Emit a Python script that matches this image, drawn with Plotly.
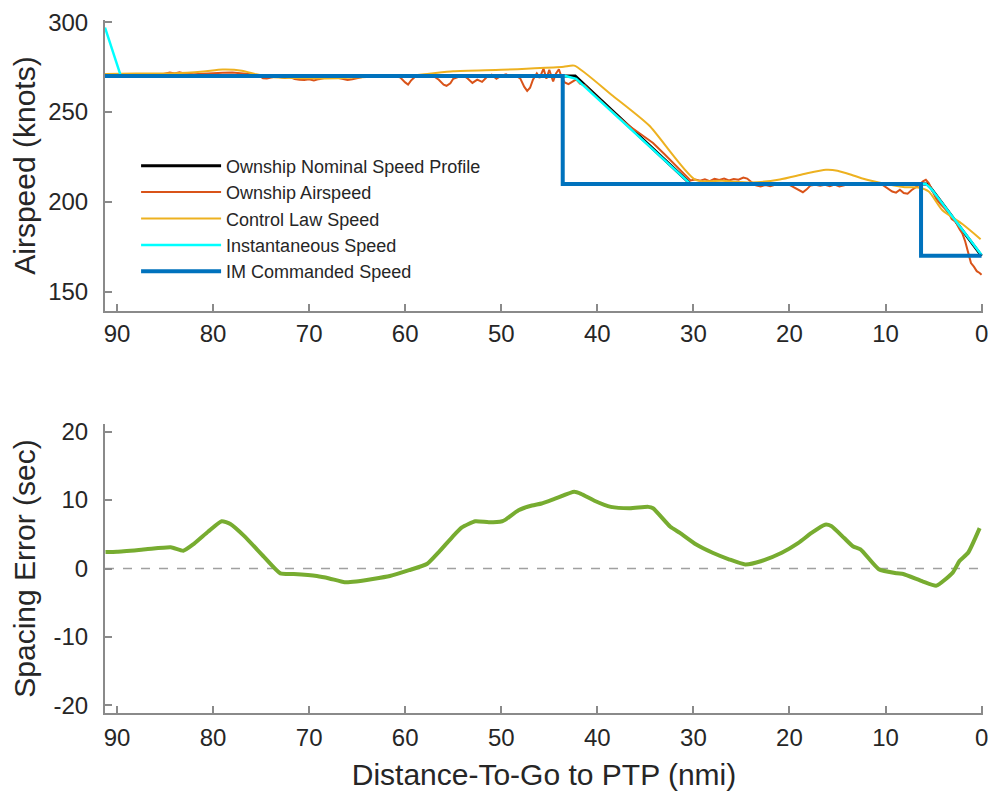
import plotly.graph_objects as go

# ---------------- data ----------------
X_EDGE = 91.25  # left end of the x axis (distance-to-go, nmi)

nominal_x = [X_EDGE, 42.3, 30.3, 5.6, 0.0]
nominal_y = [270, 270, 210, 210, 170]

airspeed_pts = [
    (91.2, 270.6), (90.5, 270.8), (89.5, 270.5), (88.5, 271.0), (87.5, 270.7), (86.5, 271.0),
    (85.5, 270.8), (85.0, 271.6), (84.5, 272.0), (84.0, 271.5), (83.5, 272.1), (83.0, 271.4),
    (82.0, 271.0), (81.0, 271.3), (80.0, 271.8), (79.0, 271.9), (78.0, 272.0), (77.0, 271.6),
    (76.0, 271.0), (75.2, 270.2), (74.8, 268.8), (74.4, 268.6), (74.0, 269.3), (73.5, 269.8),
    (73.0, 269.4), (72.5, 269.0), (72.0, 269.5), (71.5, 268.4), (71.0, 268.0), (70.5, 267.8),
    (70.0, 268.2), (69.5, 267.6), (69.0, 268.3), (68.5, 269.0), (68.0, 269.5), (67.5, 269.6),
    (67.0, 269.0), (66.5, 268.4), (66.0, 267.9), (65.5, 268.2), (65.0, 268.8), (64.5, 269.6),
    (64.0, 270.0), (63.0, 270.2), (62.0, 270.5), (61.0, 270.0), (60.5, 269.2), (60.0, 266.5),
    (59.7, 265.3), (59.4, 267.5), (59.0, 269.5), (58.5, 270.2), (58.0, 269.6), (57.5, 270.3),
    (57.0, 269.8), (56.5, 268.0), (56.0, 265.2), (55.7, 264.6), (55.3, 266.0), (55.0, 268.5),
    (54.5, 269.3), (54.0, 270.5), (53.5, 268.7), (53.0, 266.2), (52.5, 268.0), (52.0, 266.8),
    (51.5, 269.5), (51.0, 270.8), (50.5, 268.5), (50.0, 270.2), (49.5, 271.0), (49.0, 269.5),
    (48.5, 270.4), (48.0, 268.5), (47.6, 264.0), (47.3, 261.8), (47.0, 263.5), (46.7, 268.0),
    (46.3, 271.5), (46.0, 269.0), (45.6, 274.2), (45.3, 268.5), (45.0, 273.5), (44.6, 267.0),
    (44.3, 271.5), (44.0, 273.8), (43.7, 269.0), (43.4, 266.5), (43.0, 265.5), (42.6, 266.8),
    (42.2, 268.2), (41.8, 265.8), (41.3, 264.8), (40.5, 260.5), (39.5, 255.3), (38.7, 251.6),
    (37.8, 247.2), (36.7, 242.3), (35.5, 237.8), (34.2, 232.8), (33.0, 226.5), (31.8, 220.0),
    (30.8, 214.5), (30.3, 212.0), (29.8, 212.5), (29.3, 211.8), (28.8, 212.6), (28.3, 211.5),
    (27.8, 212.8), (27.3, 212.2), (26.8, 213.0), (26.3, 211.9), (25.8, 212.7), (25.3, 212.4),
    (24.8, 213.6), (24.4, 213.0), (24.0, 211.2), (23.5, 209.2), (23.0, 208.6), (22.5, 209.4),
    (22.0, 208.8), (21.5, 209.6), (21.0, 209.8), (20.5, 210.2), (20.0, 209.5), (19.5, 208.0),
    (19.0, 206.2), (18.6, 205.4), (18.2, 207.0), (17.8, 209.2), (17.3, 209.6), (16.8, 209.0),
    (16.3, 209.5), (15.8, 208.8), (15.3, 209.7), (14.8, 208.6), (14.3, 209.3), (13.8, 210.0),
    (13.3, 209.8), (12.8, 210.2), (12.3, 210.0), (11.8, 210.4), (11.3, 209.8), (10.8, 210.1),
    (10.3, 209.5), (9.8, 207.6), (9.3, 205.8), (8.9, 205.2), (8.5, 206.8), (8.1, 205.0),
    (7.7, 204.6), (7.3, 206.5), (6.9, 207.8), (6.5, 209.5), (6.1, 211.5), (5.8, 212.3),
    (5.5, 210.5), (5.1, 206.0), (4.7, 201.5), (4.3, 199.0), (3.9, 196.8), (3.5, 194.5),
    (3.1, 190.5), (2.7, 189.0), (2.3, 185.0), (2.0, 182.5), (1.7, 178.0), (1.4, 172.0),
    (1.1, 166.0), (0.8, 164.0), (0.5, 161.5), (0.2, 160.5), (0.0, 159.5),
]
airspeed_x = [p[0] for p in airspeed_pts]
airspeed_y = [p[1] for p in airspeed_pts]

control_x = [X_EDGE, 88, 84, 81, 79, 77, 75.5, 74, 70, 67, 64, 60, 57.5, 55, 50, 46.5, 43.5, 42.4,
             38.5, 34.6, 29.8, 27, 24, 21, 18.5, 16.2, 15, 13.5, 12.5, 10.7, 8, 6.6, 5.5, 4.1, 2.0, 0.1]
control_y = [271.2, 271.4, 271.6, 272.6, 273.6, 273.0, 271.0, 269.5, 268.8, 268.8, 269.5, 270.0,
             271.3, 272.7, 273.5, 274.3, 275.2, 275.8, 259.5, 242.5, 212.3, 211.8, 210.8, 212.5,
             215.5, 217.9, 217.4, 215.0, 213.2, 210.8, 208.2, 208.0, 205.8, 195.5, 187.7, 179.3]

instant_x = [X_EDGE, 89.6, 43.3, 42.2, 30.4, 30.0, 5.8, 5.2, 0.0]
instant_y = [297, 270, 270, 268.5, 210.5, 210, 210, 207, 170.5]

commanded_x = [X_EDGE, 43.6, 43.6, 6.3, 6.3, 0.0]
commanded_y = [270, 270, 210, 210, 170, 170]

spacing_x = [91.2, 90.0, 87.0, 84.4, 83.1, 82.0, 80.5, 79.1, 78.2, 76.8, 74.7, 73.0, 71.6, 69.2,
             67.9, 66.3, 65.1, 61.6, 59.6, 57.7, 56.5, 55.1, 54.1, 52.7, 51.3, 49.9, 49.6, 48.2,
             46.8, 45.8, 44.4, 42.4, 41.7, 40.3, 38.6, 36.6, 34.7, 34.2, 32.4, 31.4, 29.7, 28.0,
             26.3, 24.6, 22.9, 20.8, 19.1, 17.7, 16.3, 15.65, 14.3, 13.4, 12.6, 10.7, 8.8, 8.15,
             6.1, 4.7, 3.0, 2.3, 1.4, 0.2]
spacing_y = [2.4, 2.45, 2.8, 3.1, 2.6, 3.6, 5.4, 6.9, 6.5, 4.8, 1.7, -0.7, -0.8, -1.1,
             -1.45, -2.0, -1.9, -1.1, -0.25, 0.7, 2.4, 4.6, 6.0, 6.9, 6.75, 6.9, 7.1, 8.5,
             9.2, 9.5, 10.2, 11.2, 10.9, 9.9, 9.0, 8.8, 9.0, 8.8, 6.1, 5.2, 3.5, 2.3,
             1.35, 0.6, 1.1, 2.3, 3.7, 5.2, 6.4, 6.2, 4.45, 3.25, 2.8, -0.1, -0.7, -0.8,
             -1.9, -2.5, -0.6, 1.1, 2.3, 5.9]

zero_ref_x = [X_EDGE, 0.0]
zero_ref_y = [0, 0]

x_ticks = [90, 80, 70, 60, 50, 40, 30, 20, 10, 0]
speed_ticks = [150, 200, 250, 300]
error_ticks = [-20, -10, 0, 10, 20]
error_tick_labels = ["-20", "-10", "0", "10", "20"]

# ---------------- styling ----------------
FONT = "Liberation Sans, Arial, sans-serif"
AX_COL = "#8a8a8a"
TXT_COL = "#262626"

fig = go.Figure()

fig.add_trace(go.Scatter(x=nominal_x, y=nominal_y, mode="lines", name="Ownship Nominal Speed Profile",
                         line=dict(color="#000000", width=3), xaxis="x", yaxis="y"))
fig.add_trace(go.Scatter(x=airspeed_x, y=airspeed_y, mode="lines", name="Ownship Airspeed",
                         line=dict(color="#D95319", width=2), xaxis="x", yaxis="y"))
fig.add_trace(go.Scatter(x=control_x, y=control_y, mode="lines", name="Control Law Speed",
                         line=dict(color="#EDB120", width=2, shape="spline", smoothing=0.6),
                         xaxis="x", yaxis="y"))
fig.add_trace(go.Scatter(x=instant_x, y=instant_y, mode="lines", name="Instantaneous Speed",
                         line=dict(color="#00FFFF", width=2.5), xaxis="x", yaxis="y"))
fig.add_trace(go.Scatter(x=commanded_x, y=commanded_y, mode="lines", name="IM Commanded Speed",
                         line=dict(color="#0072BD", width=4), xaxis="x", yaxis="y"))

fig.add_trace(go.Scatter(x=zero_ref_x, y=zero_ref_y, mode="lines", showlegend=False,
                         line=dict(color="#a0a0a0", width=1.5, dash="dash"), xaxis="x2", yaxis="y2"))
fig.add_trace(go.Scatter(x=spacing_x, y=spacing_y, mode="lines", showlegend=False, name="Spacing Error",
                         line=dict(color="#77AC30", width=4, shape="spline", smoothing=0.5),
                         xaxis="x2", yaxis="y2"))

axis_common = dict(
    showline=True, linecolor=AX_COL, linewidth=2, mirror=False,
    ticks="inside", ticklen=7, tickwidth=1.5, tickcolor=AX_COL,
    showgrid=False, zeroline=False,
    tickfont=dict(family=FONT, size=24, color=TXT_COL),
)
title_font = dict(family=FONT, size=30, color=TXT_COL)

fig.update_layout(
    width=997, height=798,
    margin=dict(l=105, r=9, t=17, b=85),
    paper_bgcolor="white", plot_bgcolor="white",
    font=dict(family=FONT, color=TXT_COL),
    xaxis=dict(domain=[0, 1], anchor="y", range=[X_EDGE, -0.15], tickvals=x_ticks,
               ticklabelstandoff=0, **axis_common),
    yaxis=dict(domain=[0.580, 1.0], anchor="x", range=[139.3, 301.2], tickvals=speed_ticks,
               ticklabelstandoff=10,
               title=dict(text="Airspeed (knots)", font=title_font, standoff=4),
               **axis_common),
    xaxis2=dict(domain=[0, 1], anchor="y2", range=[X_EDGE, -0.15], tickvals=x_ticks,
                ticklabelstandoff=2,
                title=dict(text="Distance-To-Go to PTP (nmi)", font=title_font, standoff=14),
                **axis_common),
    yaxis2=dict(domain=[0, 0.417], anchor="x2", range=[-21.1, 21.1], tickvals=error_ticks,
                ticktext=error_tick_labels, ticklabelstandoff=10,
                title=dict(text="Spacing Error (sec)", font=title_font, standoff=9),
                **axis_common),
    legend=dict(x=0.0354, y=0.816, xanchor="left", yanchor="top", bgcolor="rgba(0,0,0,0)",
                borderwidth=0, itemwidth=80, font=dict(family=FONT, size=18, color=TXT_COL),
                tracegroupgap=0),
    showlegend=True,
)

fig.write_html("out.html")
